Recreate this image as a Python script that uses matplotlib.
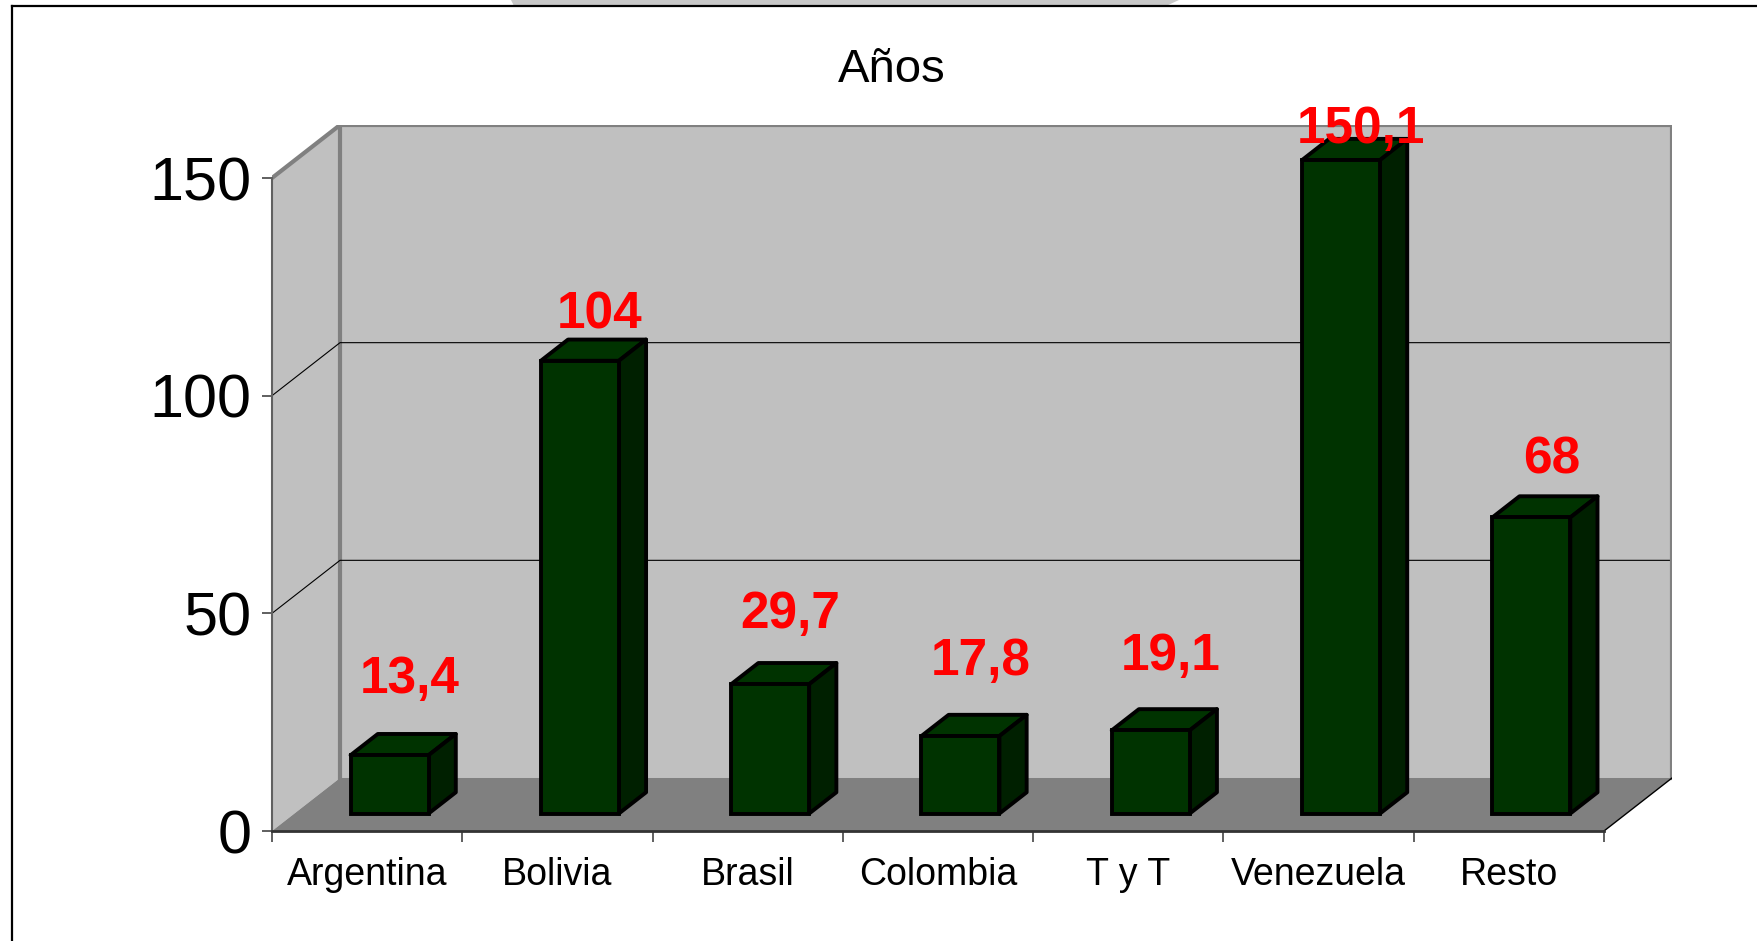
import numpy as np
import matplotlib.pyplot as plt
from matplotlib.patches import Polygon
from matplotlib.lines import Line2D

plt.rcParams['font.family'] = ['Liberation Sans', 'DejaVu Sans']

# ---- data
paises = ["Argentina", "Bolivia", "Brasil", "Colombia", "T y T", "Venezuela", "Resto"]
anios = [13.4, 104, 29.7, 17.8, 19.1, 150.1, 68]
etiquetas = ["13,4", "104", "29,7", "17,8", "19,1", "150,1", "68"]
y_ticks = [0, 50, 100, 150]

W, H = 1758, 941
fig = plt.figure(figsize=(W / 100, H / 100), dpi=100)

# 3D look: depth vector of the floor, in data units
DX = 68 / 190.29
DY = 53 / 4.353
F0, F1 = 0.33, 0.73   # front / back of the bars, as a fraction of the depth
bw = 0.41
ymax = y_ticks[-1]
n = len(paises)

ax = fig.add_axes([272 / W, 110 / H, 1400 / W, 706 / H])
ax.set_xlim(-0.5, n - 0.5 + DX)
ax.set_ylim(0, ymax + DY)
ax.patch.set_visible(False)

# ---- walls and floor
x0, x1 = -0.5, n - 0.5
ax.add_patch(Polygon([(x0 + DX, DY), (x1 + DX, DY), (x1 + DX, ymax + DY), (x0 + DX, ymax + DY)],
                     fc='#c0c0c0', ec='none', zorder=0))
ax.add_patch(Polygon([(x0, 0), (x0 + DX, DY), (x0 + DX, ymax + DY), (x0, ymax)],
                     fc='#c0c0c0', ec='none', zorder=0))
ax.add_patch(Polygon([(x0, 0), (x1, 0), (x1 + DX, DY), (x0 + DX, DY)],
                     fc='#808080', ec='none', zorder=1))

# gridlines on the walls
for v in y_ticks[1:-1]:
    ax.plot([x0, x0 + DX, x1 + DX], [v, v + DY, v + DY], color='black', lw=0.8, zorder=1.5)

# wall edges
ax.plot([x0, x0 + DX, x1 + DX, x1 + DX], [ymax, ymax + DY, ymax + DY, DY],
        color='#808080', lw=3, zorder=2, solid_joinstyle='round')
ax.plot([x0 + DX, x0 + DX], [DY, ymax + DY], color='#808080', lw=3, zorder=0.5)
ax.plot([x1, x1 + DX], [0, DY], color='black', lw=1, zorder=2)

# ---- axes
for s in ['top', 'right']:
    ax.spines[s].set_visible(False)
ax.spines['left'].set_bounds(0, ymax)
ax.spines['left'].set_color('#606060')
ax.spines['left'].set_linewidth(1.5)
ax.spines['bottom'].set_bounds(x0, x1)
ax.spines['bottom'].set_color('#333333')
ax.spines['bottom'].set_linewidth(2)

ax.set_yticks(y_ticks)
ax.set_yticklabels([str(t) for t in y_ticks], fontsize=44)
ax.tick_params(axis='y', length=7, width=1.2, color='#444444', pad=8)

ax.set_xticks(np.arange(x0, x1 + 0.01, 1))
ax.set_xticklabels([])
ax.tick_params(axis='x', which='major', length=8, width=1.2, color='#444444')
ax.set_xticks(np.arange(n), labels=paises, minor=True)
ax.tick_params(axis='x', which='minor', length=0, pad=19, labelsize=27)

# ---- bars
x = np.arange(n)
xf = x + F0 * DX
yb = F0 * DY
d = F1 - F0
ax.bar(xf, anios, width=bw, bottom=yb, color='#003300', edgecolor='black', lw=2.8, zorder=4)
for xi, v in zip(xf, anios):
    l, r = xi - bw / 2, xi + bw / 2
    t = yb + v
    ax.add_patch(Polygon([(l, t), (r, t), (r + d * DX, t + d * DY), (l + d * DX, t + d * DY)],
                         fc='#003300', ec='black', lw=2.8, zorder=3, joinstyle='round'))
    ax.add_patch(Polygon([(r, yb), (r + d * DX, yb + d * DY), (r + d * DX, t + d * DY), (r, t)],
                         fc='#002000', ec='black', lw=2.8, zorder=3, joinstyle='round'))

# value labels
for xi, v, s in zip(xf, anios, etiquetas):
    off = (80 - 0.33 * v) / 4.353
    ax.text(xi + 0.105, yb + v + off, s, ha='center', va='center', color='#ff0000',
            fontsize=37, fontweight='bold', zorder=6)

# ---- title and slide bits
fig.text(892 / W, 1 - 82 / H, "Años", ha='center', va='baseline', fontsize=34)

fig.add_artist(Polygon([(511 / W, 1), (1179 / W, 1), (1166 / W, 1 - 6 / H), (514 / W, 1 - 6 / H)],
                       closed=True, fc='#c8c8c8', ec='none', transform=fig.transFigure))
fig.add_artist(Line2D([12 / W, 1], [1 - 6 / H, 1 - 6 / H], color='black', lw=1.6,
                      transform=fig.transFigure))
fig.add_artist(Line2D([12 / W, 12 / W], [0, 1 - 6 / H], color='black', lw=1.6,
                      transform=fig.transFigure))

fig.savefig('out.png', dpi=100)
